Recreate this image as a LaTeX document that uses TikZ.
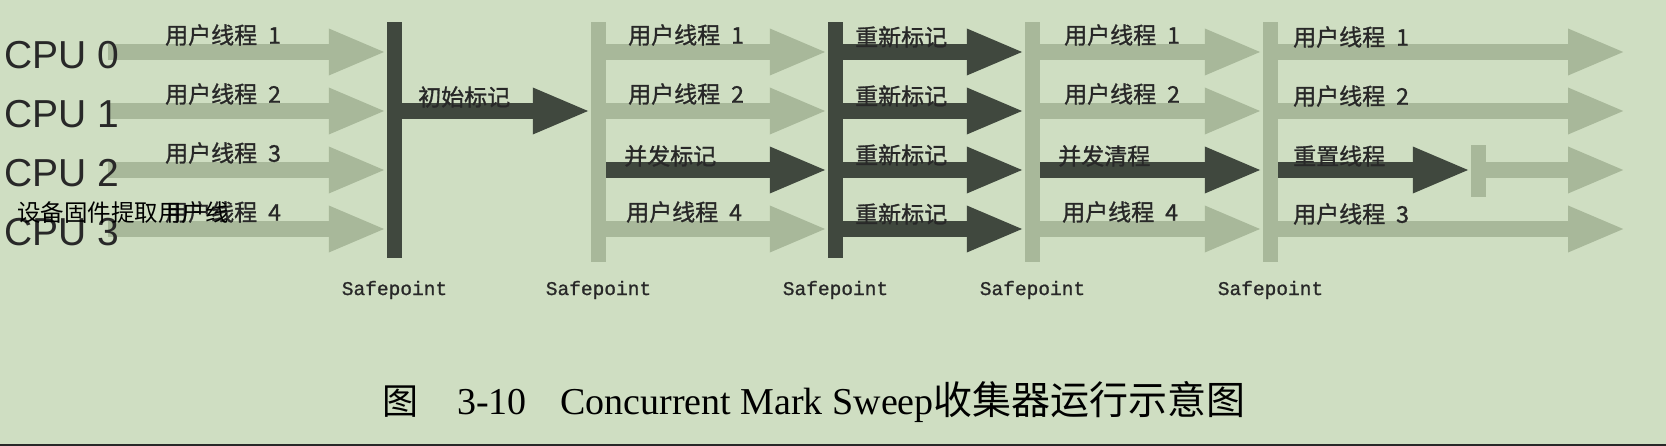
\documentclass[tikz,border=0pt]{standalone}
\usepackage{fontspec}
\setmainfont{Liberation Serif}
\newfontfamily\cjk{Noto Sans CJK SC}
\newfontfamily\cjkb{Noto Sans CJK SC}[FakeBold=1.2]
\newfontfamily\cpufont{Liberation Sans}
\newfontfamily\sfmono{Liberation Mono}[FakeBold=1]
\usetikzlibrary{arrows.meta}
\definecolor{bg}{RGB}{207,222,194}
\definecolor{lite}{RGB}{168,184,154}
\definecolor{darkg}{RGB}{64,72,62}
\definecolor{txt}{RGB}{40,40,40}
\newcommand{\ut}[1]{用户线程\hspace{11pt}#1}
\begin{document}
\begin{tikzpicture}[x=1pt,y=-1pt,
  lt/.style={line width=16pt, draw=lite, -{Triangle[width=42pt,length=58pt,fill=lite]}},
  dk/.style={line width=16pt, draw=darkg, -{Triangle[width=42pt,length=58pt,fill=darkg]}},
  barL/.style={fill=lite, inner sep=0pt, minimum width=15pt, minimum height=240pt},
  barD/.style={fill=darkg, inner sep=0pt, minimum width=15pt, minimum height=236pt},
  cpu/.style={anchor=west, inner sep=0pt, text=txt, font=\cpufont\fontsize{39}{39}\selectfont},
  lbl/.style={anchor=west, inner sep=0pt, text=txt, font=\cjkb\fontsize{23}{23}\selectfont},
  sp/.style={inner sep=0pt, text=txt, font=\sfmono\fontsize{19.5}{20}\selectfont},
  capt/.style={anchor=west, inner sep=0pt, text=black, font=\fontsize{38}{38}\selectfont}
]
\useasboundingbox (0,0) rectangle (1666,446);
\fill[bg] (0,0) rectangle (1666,446);
\fill[txt] (0,443.5) rectangle (1666,446);

% row levels
\coordinate (y0) at (0,52);
\coordinate (y1) at (0,111);
\coordinate (y2) at (0,170);
\coordinate (y3) at (0,229);

% safepoint bars
\node[barD] (b1) at (394.5,140) {};
\node[barL] (b2) at (598.5,142) {};
\node[barD] (b3) at (835.5,140) {};
\node[barL] (b4) at (1032.5,142) {};
\node[barL] (b5) at (1270.5,142) {};
\node[fill=lite, inner sep=0pt, minimum width=15pt, minimum height=52pt] (sb) at (1478.5,171) {};

\coordinate (s0) at (108,52);
\coordinate (s1) at (108,111);
\coordinate (s2) at (108,170);
\coordinate (s3) at (108,229);
\coordinate (e0) at (1626,52);
\coordinate (e1) at (1626,111);
\coordinate (e2) at (1626,170);
\coordinate (e3) at (1626,229);

% before b1
\draw[lt] (s0) -- (s0 -| b1.west);
\draw[lt] (s1) -- (s1 -| b1.west);
\draw[lt] (s2) -- (s2 -| b1.west);
\draw[lt] (s3) -- (s3 -| b1.west);
% b1 -> b2
\draw[dk] (b1.east |- y1) -- (b2.west |- y1);
% b2 -> b3
\draw[lt] (b2.east |- y0) -- (b3.west |- y0);
\draw[lt] (b2.east |- y1) -- (b3.west |- y1);
\draw[dk] (b2.east |- y2) -- (b3.west |- y2);
\draw[lt] (b2.east |- y3) -- (b3.west |- y3);
% b3 -> b4
\draw[dk] (b3.east |- y0) -- (b4.west |- y0);
\draw[dk] (b3.east |- y1) -- (b4.west |- y1);
\draw[dk] (b3.east |- y2) -- (b4.west |- y2);
\draw[dk] (b3.east |- y3) -- (b4.west |- y3);
% b4 -> b5
\draw[lt] (b4.east |- y0) -- (b5.west |- y0);
\draw[lt] (b4.east |- y1) -- (b5.west |- y1);
\draw[dk] (b4.east |- y2) -- (b5.west |- y2);
\draw[lt] (b4.east |- y3) -- (b5.west |- y3);
% after b5
\draw[lt] (b5.east |- y0) -- (e0);
\draw[lt] (b5.east |- y1) -- (e1);
\draw[dk] (b5.east |- y2) -- (sb.west |- y2);
\draw[lt] (sb.east |- y2) -- (e2);
\draw[lt] (b5.east |- y3) -- (e3);

% CPU labels (on top of arrow tails)
\node[cpu] (c0) at (4,55) {CPU 0};
\node[cpu] (c1) at (4,114) {CPU 1};
\node[cpu] (c2) at (4,173) {CPU 2};
\node[cpu] (c3) at (4,232) {CPU 3};

% labels
\node[lbl] (l00) at (165,35) {\ut{1}};
\node[lbl] (l01) at (165,94) {\ut{2}};
\node[lbl] (l02) at (165,153) {\ut{3}};
\node[lbl] (l03) at (165,212) {\ut{4}};
\node[anchor=west, inner sep=0pt, text=black, font=\cjk\fontsize{23.5}{23.5}\selectfont] (wm) at (17,213) {设备固件提取用户线};
\node[lbl] (l11) at (418,97) {初始标记};
\node[lbl] (l20) at (628,35) {\ut{1}};
\node[lbl] (l21) at (628,94) {\ut{2}};
\node[lbl] (l22) at (624,156) {并发标记};
\node[lbl] (l23) at (626,212) {\ut{4}};
\node[lbl] (l30) at (855,37) {重新标记};
\node[lbl] (l31) at (855,96) {重新标记};
\node[lbl] (l32) at (855,155) {重新标记};
\node[lbl] (l33) at (855,214) {重新标记};
\node[lbl] (l40) at (1064,35) {\ut{1}};
\node[lbl] (l41) at (1064,94) {\ut{2}};
\node[lbl] (l42) at (1058,156) {并发清程};
\node[lbl] (l43) at (1062,212) {\ut{4}};
\node[lbl] (l50) at (1293,37) {\ut{1}};
\node[lbl] (l51) at (1293,96) {\ut{2}};
\node[lbl] (l52) at (1293,156) {重置线程};
\node[lbl] (l53) at (1293,214) {\ut{3}};

% safepoint labels
\node[sp] (p1) at (b1.south |- 0,290) {Safepoint};
\node[sp] (p2) at (b2.south |- 0,290) {Safepoint};
\node[sp] (p3) at (b3.south |- 0,290) {Safepoint};
\node[sp] (p4) at (b4.south |- 0,290) {Safepoint};
\node[sp] (p5) at (b5.south |- 0,290) {Safepoint};

% caption
\node[capt, font=\cjk\fontsize{36}{36}\selectfont] (t1) at (382,402) {图};
\node[capt] (t2) at (457,402) {3-10};
\node[capt, anchor=base west] (t3) at (560,414) {Concurrent Mark Sweep{\cjk\fontsize{39}{39}\selectfont 收集器运行示意图}};
\end{tikzpicture}
\end{document}
